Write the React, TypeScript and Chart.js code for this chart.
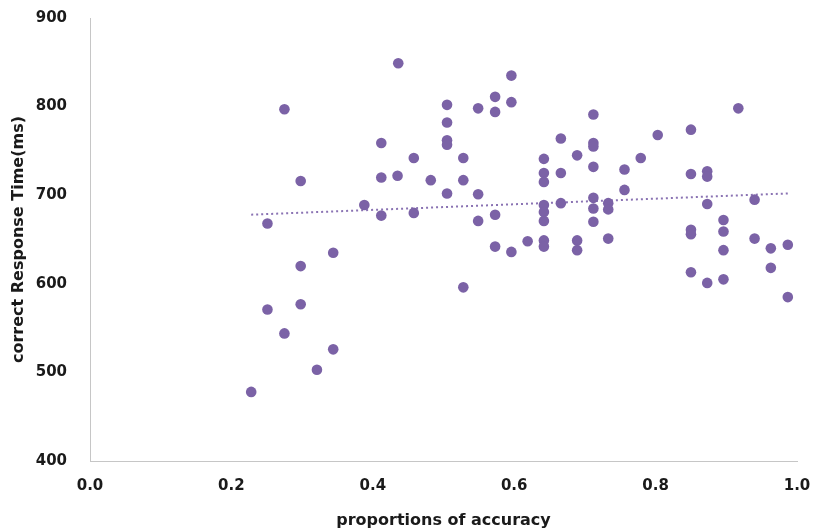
import React, { useEffect, useRef } from "react";
import { Chart, registerables } from "chart.js";

Chart.register(...registerables);

const ACCURACY = [
  0.228, 0.251, 0.251, 0.275, 0.275, 0.298, 0.298, 0.298, 0.321, 0.344, 0.344,
  0.388, 0.412, 0.412, 0.412, 0.435, 0.436, 0.458, 0.458, 0.482,
  0.505, 0.505, 0.505, 0.505, 0.505, 0.528, 0.528, 0.528, 0.549, 0.549, 0.549,
  0.573, 0.573, 0.573, 0.573, 0.596, 0.596, 0.596, 0.619,
  0.642, 0.642, 0.642, 0.642, 0.642, 0.642, 0.642, 0.642,
  0.666, 0.666, 0.666, 0.689, 0.689, 0.689,
  0.712, 0.712, 0.712, 0.712, 0.712, 0.712, 0.712, 0.733, 0.733, 0.733,
  0.756, 0.756, 0.779, 0.803, 0.85, 0.85, 0.85, 0.85, 0.85,
  0.873, 0.873, 0.873, 0.873, 0.896, 0.896, 0.896, 0.896,
  0.917, 0.94, 0.94, 0.963, 0.963, 0.987, 0.987,
];
const RESPONSE_TIME = [
  478, 668, 571, 797, 544, 716, 620, 577, 503, 635, 526,
  689, 759, 720, 677, 722, 849, 742, 680, 717,
  802, 782, 762, 757, 702, 742, 717, 596, 798, 701, 671,
  811, 794, 678, 642, 835, 805, 636, 648,
  741, 725, 715, 689, 681, 671, 649, 642,
  764, 725, 691, 745, 649, 638,
  791, 759, 755, 732, 697, 685, 670, 691, 684, 651,
  729, 706, 742, 768, 774, 724, 661, 656, 613,
  727, 721, 690, 601, 672, 659, 638, 605,
  798, 695, 651, 640, 618, 644, 585,
];
const TREND_X = [0.228, 0.987];
const TREND_Y = [678, 702];
const X_TITLE = "proportions of accuracy";
const Y_TITLE = "correct Response Time(ms)";

const FONT = "'DejaVu Sans', sans-serif";

export default function App() {
  const ref = useRef<HTMLCanvasElement>(null);
  useEffect(() => {
    if (!ref.current) return;
    const chart = new Chart(ref.current, {
      type: "scatter",
      data: {
        datasets: [
          {
            label: "data",
            data: ACCURACY.map((x, i) => ({ x, y: RESPONSE_TIME[i] })),
            backgroundColor: "#7b62a6",
            borderColor: "#7b62a6",
            pointRadius: 5.3,
            pointHoverRadius: 5.3,
            borderWidth: 0,
          },
          {
            type: "line",
            label: "trend",
            data: TREND_X.map((x, i) => ({ x, y: TREND_Y[i] })),
            borderColor: "#8a73b3",
            borderWidth: 2,
            borderDash: [2, 3],
            pointRadius: 0,
            fill: false,
          },
        ],
      },
      options: {
        responsive: false,
        animation: false,
        layout: { padding: { left: 0, top: 18, right: 19, bottom: 0 } },
        plugins: { legend: { display: false }, tooltip: { enabled: false } },
        scales: {
          x: {
            type: "linear",
            min: 0,
            max: 1,
            afterFit: (s: any) => {
              s.height = 71;
              s.paddingLeft = 0;
              s.paddingRight = 0;
            },
            grid: { display: false, drawTicks: false },
            border: { display: true, color: "#c6c6c6", width: 1 },
            ticks: {
              stepSize: 0.2,
              padding: 16,
              color: "#1a1a1a",
              font: { family: FONT, size: 15, weight: "bold" },
              callback: (v: any) => Number(v).toFixed(1),
            },
            title: {
              display: true,
              text: X_TITLE,
              color: "#1a1a1a",
              font: { family: FONT, size: 16, weight: "bold" },
              padding: { top: 0, bottom: 2 },
            },
          },
          y: {
            type: "linear",
            min: 400,
            max: 900,
            afterFit: (s: any) => {
              s.width = 90;
              s.paddingTop = 0;
              s.paddingBottom = 0;
            },
            grid: { display: false, drawTicks: false },
            border: { display: true, color: "#c6c6c6", width: 1 },
            ticks: {
              stepSize: 100,
              padding: 23,
              color: "#1a1a1a",
              font: { family: FONT, size: 15, weight: "bold" },
            },
            title: {
              display: true,
              text: Y_TITLE,
              color: "#1a1a1a",
              font: { family: FONT, size: 16, weight: "bold" },
              padding: { top: 9, bottom: 0 },
            },
          },
        },
      },
    });
    return () => chart.destroy();
  }, []);
  return (
    <div style={{ position: "fixed", left: 0, top: 0, width: 816, height: 532, background: "#fff" }}>
      <canvas ref={ref} width={816} height={532} style={{ display: "block" }} />
    </div>
  );
}
